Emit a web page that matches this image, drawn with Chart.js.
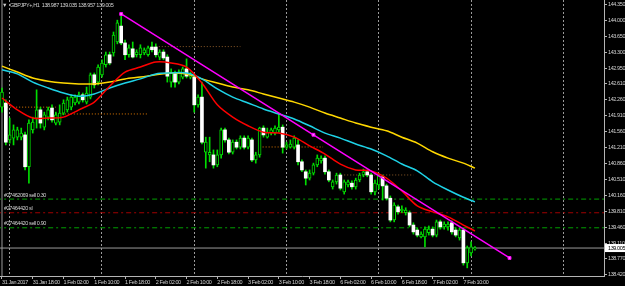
<!DOCTYPE html>
<html>
<head>
<meta charset="utf-8">
<script src="https://cdn.jsdelivr.net/npm/chart.js@4.4.1/dist/chart.umd.min.js"></script>
<style>
  html, body { margin: 0; padding: 0; background: #000; }
  #wrap { position: relative; width: 625px; height: 286px; }
</style>
</head>
<body>
<div id="wrap"><canvas id="chart"></canvas></div>
<script>
const symbol = 'GBPJPY+,H1'

// H1 bars, index 0 = 31 Jan 2017 10:00
const open = [142.10,142.19,141.38,141.42,141.44,141.44,141.49,140.79,141.60,141.86,
  142.04,141.66,141.88,142.08,141.75,141.77,141.97,142.04,142.10,142.19,
  142.21,142.37,142.21,142.32,142.81,142.65,142.81,143.03,143.25,143.29,
  143.53,143.88,143.51,143.25,143.38,143.25,143.25,143.29,143.25,143.42,
  143.42,143.20,143.31,143.20,142.65,142.85,142.65,142.76,142.94,142.76,
  142.76,142.15,142.32,141.11,141.05,141.05,140.83,141.05,141.60,141.38,
  141.11,141.33,141.22,141.42,141.22,141.38,140.94,141.05,141.64,141.44,
  141.53,141.53,141.60,141.66,141.22,141.22,141.22,141.27,140.90,140.68,
  140.54,140.65,140.83,140.92,140.98,140.68,140.35,140.46,140.61,140.24,
  140.39,140.43,140.35,140.50,140.61,140.68,140.61,140.24,140.39,140.57,
  140.37,140.10,139.62,139.91,139.82,139.78,139.78,139.51,139.40,139.25,
  139.25,139.34,139.42,139.29,139.58,139.47,139.47,139.56,139.40,139.23,
  139.40,138.68,138.90,138.987]
const high = [142.52,142.26,141.86,141.71,141.66,141.64,141.55,141.82,141.88,142.48,
  142.10,141.99,142.10,142.15,141.99,142.15,142.26,142.32,142.37,142.37,
  142.43,142.41,142.54,142.85,142.85,143.03,143.14,143.31,143.31,143.75,
  144.01,144.15,143.57,143.47,143.53,143.36,143.47,143.40,143.44,143.53,
  143.49,143.36,143.36,143.25,142.94,142.89,142.92,142.98,143.16,142.87,
  142.81,142.37,142.65,141.44,141.44,141.16,141.16,141.64,141.64,141.42,
  141.38,141.38,141.47,141.47,141.47,141.42,141.11,141.66,141.69,141.64,
  141.64,141.69,141.97,141.71,141.33,141.38,141.47,141.38,140.94,140.72,
  140.72,140.87,141.05,141.03,141.03,140.72,140.50,140.65,140.65,140.50,
  140.50,140.48,140.54,140.65,140.74,140.72,140.65,140.50,140.63,140.61,
  140.41,140.15,140.00,139.95,139.93,139.89,139.82,139.56,139.45,139.36,
  139.47,139.49,139.47,139.62,139.62,139.58,139.58,139.60,139.45,139.45,
  139.45,139.05,139.14,139.035]
const low = [141.99,141.27,141.31,141.27,141.38,141.38,140.72,140.43,141.53,141.64,
  141.64,141.60,141.82,141.77,141.71,141.71,141.93,141.99,142.04,142.15,
  142.17,142.21,142.17,142.28,142.52,142.59,142.76,142.98,143.03,143.22,
  143.49,143.47,143.14,143.20,143.18,143.20,143.18,143.25,143.22,143.31,
  143.20,143.14,143.14,142.65,142.54,142.54,142.61,142.72,142.74,142.72,
  141.99,142.10,141.29,140.76,140.90,140.76,140.79,140.98,141.33,141.07,
  141.07,141.18,141.18,141.18,141.18,140.90,140.87,141.00,141.44,141.42,
  141.49,141.49,141.55,141.09,141.18,141.20,141.18,140.83,140.68,140.39,
  140.50,140.61,140.79,140.87,140.63,140.46,140.30,140.41,140.28,140.19,
  140.35,140.30,140.30,140.46,140.57,140.57,140.19,140.17,140.30,140.06,
  140.06,139.58,139.58,139.75,139.78,139.73,139.47,139.31,139.25,139.23,
  139.03,139.29,139.25,139.25,139.42,139.42,139.40,139.31,139.25,139.18,
  138.63,138.57,138.83,138.957]
const close = [142.43,141.33,141.49,141.60,141.60,141.53,140.79,141.75,141.77,142.04,
  141.75,141.93,142.04,141.82,141.93,141.97,142.19,142.26,142.32,142.32,
  142.37,142.26,142.41,142.81,142.59,142.98,143.07,143.25,143.07,143.68,
  143.95,143.51,143.25,143.40,143.20,143.31,143.40,143.36,143.40,143.36,
  143.25,143.31,143.18,142.78,142.87,142.65,142.87,142.94,142.78,142.83,
  142.15,142.32,141.33,141.33,141.11,140.83,141.05,141.60,141.38,141.11,
  141.33,141.22,141.42,141.22,141.42,140.94,141.05,141.64,141.49,141.55,
  141.60,141.64,141.66,141.22,141.27,141.29,141.42,140.90,140.72,140.54,
  140.65,140.83,140.98,140.98,140.68,140.50,140.46,140.61,140.32,140.46,
  140.46,140.35,140.50,140.61,140.68,140.61,140.24,140.43,140.59,140.37,
  140.10,139.62,139.95,139.80,139.86,139.84,139.51,139.36,139.29,139.31,
  139.42,139.42,139.29,139.58,139.47,139.53,139.53,139.36,139.29,139.40,
  138.68,139.01,139.03,139.005]

// moving averages, read every 4 bars
const maIdx  = [0,4,8,12,16,20,24,28,32,36,40,44,48,52,56,60,64,68,72,76,80,84,88,92,96,100,104,108,112,116,120,123]
const maFast = [142.30,142.04,141.86,141.86,141.88,142.04,142.21,142.56,142.87,142.98,143.09,143.07,142.98,142.63,142.15,141.88,
  141.69,141.55,141.53,141.44,141.25,141.07,140.85,140.72,140.70,140.54,140.26,139.93,139.80,139.69,139.51,139.38]
const maMid  = [142.92,142.83,142.65,142.52,142.41,142.34,142.39,142.52,142.63,142.72,142.83,142.85,142.85,142.72,142.50,142.32,
  142.19,142.06,141.95,141.84,141.69,141.53,141.42,141.29,141.18,141.03,140.85,140.70,140.46,140.28,140.12,140.02]
const maSlow = [143.00,142.87,142.74,142.67,142.63,142.61,142.61,142.65,142.72,142.76,142.81,142.85,142.83,142.72,142.63,142.54,
  142.48,142.39,142.30,142.21,142.10,141.97,141.86,141.75,141.66,141.58,141.44,141.31,141.12,140.98,140.87,140.76]

// trend line (anchor bars and prices)
const trendIdx = [31, 81, 132]
const trendVal = [144.146, 141.493, 138.787]

// dotted daily levels
const levelFrom  = [-1, 14, 40, 67, 89]
const levelTo    = [14, 38, 62, 83.5, 107]
const levelValue = [142.10, 141.95, 143.43, 141.225, 140.61]
const levelColor = ['#e07800', '#e07800', '#8a5a28', '#e07800', '#8a5a28']

// order lines
const orderValue = [140.08, 139.78, 139.45]
const orderName  = ['#27462069 sell 0.30', '#27464420 sl', '#27464420 sell 0.90']
const orderColor = ['#00a000', '#a00000', '#00a000']

// vertical marker line on the first bar
const markerBar = 0

const timeTicks  = [0,8,16,24,32,40,48,56,64,72,80,88,96,104,112,120]
const timeLabels = ['31 Jan 2017','31 Jan 18:00','1 Feb 02:00','1 Feb 10:00','1 Feb 18:00','2 Feb 02:00','2 Feb 10:00','2 Feb 18:00',
  '3 Feb 02:00','3 Feb 10:00','3 Feb 18:00','6 Feb 02:00','6 Feb 10:00','6 Feb 18:00','7 Feb 02:00','7 Feb 10:00']
const separators = [14, 38, 62, 86, 110, 134]
const priceTicks = [144.35,144.0,143.65,143.3,142.95,142.61,142.26,141.91,141.56,141.21,140.86,140.51,140.16,139.81,139.46,139.11,138.77,138.42]

const xMin = -0.52, xMax = 156.57
const yMin = 138.391, yMax = 144.453
const last = open.length - 1
const lastPrice = close[last]

const fontFamily = "'Liberation Sans', Arial, sans-serif"
const axisColor = '#b4b4b4'
const textColor = '#d0d0d0'

const isBear = i => close[i] < open[i]

const flat = (v, color, dash, width) => ({
  type: 'line',
  data: [{ x: xMin - 1, y: v }, { x: xMax + 1, y: v }],
  borderColor: color, borderWidth: width || 1, borderDash: dash || [],
  pointRadius: 0, order: 5
})

const datasets = [
  {
    type: 'line', label: 'trend',
    data: trendIdx.map((x, k) => ({ x, y: trendVal[k] })),
    borderColor: '#ff00ff', borderWidth: 1.5,
    pointStyle: 'rect', pointRadius: 2, pointBackgroundColor: '#ff80ff', pointBorderColor: '#ff00ff', pointBorderWidth: 1,
    order: 0
  },
  { type: 'line', label: 'fast', data: maIdx.map((x, k) => ({ x, y: maFast[k] })), borderColor: '#ff0000', borderWidth: 1.5, pointRadius: 0, tension: 0.3, order: 1 },
  { type: 'line', label: 'mid',  data: maIdx.map((x, k) => ({ x, y: maMid[k] })),  borderColor: '#1ed2e6', borderWidth: 1.5, pointRadius: 0, tension: 0.3, order: 1 },
  { type: 'line', label: 'slow', data: maIdx.map((x, k) => ({ x, y: maSlow[k] })), borderColor: '#ffd800', borderWidth: 1.5, pointRadius: 0, tension: 0.3, order: 1 },
  {
    type: 'bar', label: 'body',
    data: open.map((o, i) => ({ x: i, y: [o, close[i]] })),
    backgroundColor: c => isBear(c.dataIndex) ? '#ffffff' : '#000000',
    borderColor: '#00dd00',
    borderWidth: c => isBear(c.dataIndex) ? 0 : 1,
    borderSkipped: false, barThickness: 3, grouped: false, order: 2
  },
  {
    type: 'bar', label: 'wick',
    data: open.map((o, i) => ({ x: i, y: [low[i], high[i]] })),
    backgroundColor: '#00dd00', barThickness: 1, grouped: false, order: 3
  },
  ...levelValue.map((v, k) => ({
    type: 'line',
    data: [{ x: levelFrom[k], y: v }, { x: levelTo[k], y: v }],
    borderColor: levelColor[k], borderWidth: 1, borderDash: [1, 2], pointRadius: 0, order: 4
  })),
  ...orderValue.map((v, k) => flat(v, orderColor[k], [5, 3, 2, 3])),
  flat(lastPrice, '#9a9a9a'),
  {
    type: 'line', label: 'marker',
    data: [{ x: markerBar, y: yMin - 1 }, { x: markerBar, y: yMax + 1 }],
    borderColor: '#9a9a9a', borderWidth: 1, pointRadius: 0, order: 6
  }
]

const overlay = {
  id: 'overlay',
  beforeDraw(chart) {
    chart.ctx.letterSpacing = '-0.4px'
  },
  afterDatasetsDraw(chart) {
    const { ctx } = chart
    const y = chart.scales.y
    ctx.save()
    ctx.font = '5.5px ' + fontFamily
    ctx.fillStyle = textColor
    ctx.textBaseline = 'middle'
    ctx.fillText('\u25BC', 2, 5)
    ctx.fillText(symbol + '  ' + [open[last], high[last], low[last], close[last]].map(v => v.toFixed(3)).join(' '), 10, 5)
    orderName.forEach((t, k) => ctx.fillText(t, 4, y.getPixelForValue(orderValue[k]) - 4))
    const py = y.getPixelForValue(lastPrice)
    ctx.fillStyle = '#ffffff'
    ctx.fillRect(y.left + 1, py - 4, 21, 8)
    ctx.fillStyle = '#000000'
    ctx.fillText(lastPrice.toFixed(3), y.left + 4, py)
    ctx.restore()
  }
}

new Chart(document.getElementById('chart'), {
  type: 'bar',
  data: { datasets },
  options: {
    responsive: true,
    maintainAspectRatio: false,
    animation: false,
    layout: { padding: 0, autoPadding: false },
    plugins: { legend: { display: false }, tooltip: { enabled: false }, title: { display: false } },
    scales: {
      x: {
        type: 'linear', position: 'bottom', min: xMin, max: xMax, offset: false,
        grid: { offset: false, drawOnChartArea: false, drawTicks: true, tickLength: 3, color: axisColor },
        border: { display: true, color: axisColor },
        ticks: {
          autoSkip: false, maxRotation: 0, align: 'start', padding: 0, color: textColor,
          font: { size: 5.5, family: fontFamily },
          callback: (v, i) => timeLabels[i]
        },
        afterBuildTicks: s => { s.ticks = timeTicks.map(v => ({ value: v })) },
        afterFit: s => { s.height = 10; s.paddingLeft = 0; s.paddingRight = 0 }
      },
      sep: {
        type: 'linear', position: 'bottom', min: xMin, max: xMax, offset: false,
        grid: { drawOnChartArea: true, drawTicks: false, color: '#9a9a9a', lineWidth: 1 },
        border: { display: false, dash: [2, 2] },
        ticks: { display: false },
        afterBuildTicks: s => { s.ticks = separators.map(v => ({ value: v })) },
        afterFit: s => { s.height = 0; s.paddingLeft = 0; s.paddingRight = 0 }
      },
      y: {
        type: 'linear', position: 'right', min: yMin, max: yMax, beginAtZero: false,
        grid: { drawOnChartArea: false, drawTicks: true, tickLength: 3, color: axisColor },
        border: { display: true, color: axisColor },
        ticks: {
          autoSkip: false, padding: 1, color: textColor,
          font: { size: 5.5, family: fontFamily },
          callback: v => v.toFixed(3)
        },
        afterBuildTicks: s => { s.ticks = priceTicks.map(v => ({ value: v })) },
        afterFit: s => { s.width = 21; s.paddingTop = 0; s.paddingBottom = 0 }
      }
    }
  },
  plugins: [overlay]
})
</script>
</body>
</html>
